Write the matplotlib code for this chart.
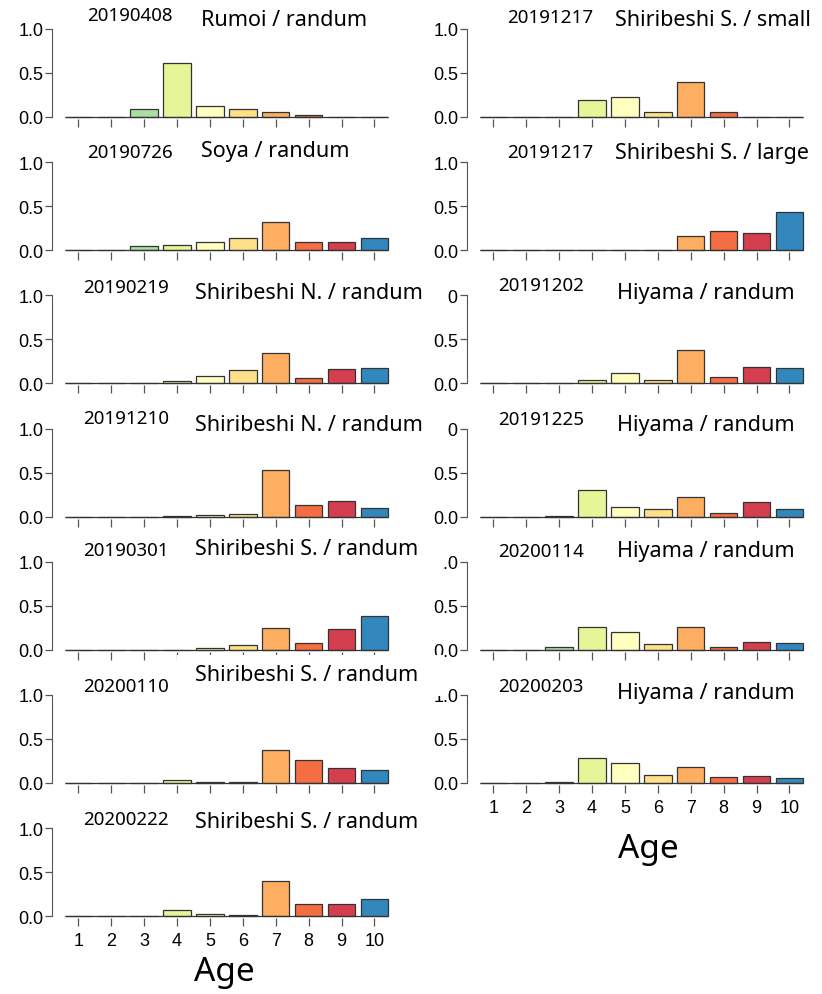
import numpy as np
import matplotlib.pyplot as plt
from matplotlib.patches import Rectangle

# age composition (proportion) by sample
ages = np.arange(1, 11)
age_colors = ['#5e4fa2', '#66c2a5', '#abdda4', '#e6f598', '#ffffbf',
              '#fee08b', '#fdae61', '#f46d43', '#d53e4f', '#3288bd']

rumoi_0408 = [0, 0, 0.087, 0.61, 0.13, 0.087, 0.057, 0.023, 0, 0.005]
soya_0726 = [0, 0, 0.053, 0.064, 0.094, 0.143, 0.32, 0.094, 0.094, 0.143]
shiriN_0219 = [0, 0, 0, 0.022, 0.081, 0.148, 0.345, 0.06, 0.16, 0.178]
shiriN_1210 = [0, 0, 0, 0.006, 0.02, 0.035, 0.53, 0.128, 0.173, 0.098]
shiriS_0301 = [0, 0, 0, 0, 0.023, 0.05, 0.248, 0.073, 0.233, 0.38]
shiriS_0110 = [0, 0, 0, 0.035, 0.01, 0.01, 0.37, 0.26, 0.175, 0.148]
shiriS_0222 = [0, 0, 0, 0.068, 0.027, 0.008, 0.405, 0.144, 0.144, 0.193]

shiriS_small_1217 = [0, 0, 0, 0.196, 0.227, 0.062, 0.396, 0.062, 0, 0]
shiriS_large_1217 = [0, 0, 0, 0, 0, 0, 0.165, 0.222, 0.19, 0.43]
hiyama_1202 = [0, 0, 0, 0.038, 0.117, 0.038, 0.38, 0.07, 0.188, 0.18]
hiyama_1225 = [0, 0, 0.005, 0.297, 0.113, 0.083, 0.226, 0.045, 0.162, 0.083]
hiyama_0114 = [0, 0, 0.03, 0.263, 0.207, 0.064, 0.256, 0.03, 0.086, 0.079]
hiyama_0203 = [0, 0, 0.007, 0.281, 0.23, 0.096, 0.185, 0.067, 0.081, 0.056]

left_dates = ['20190408', '20190726', '20190219', '20191210', '20190301', '20200110', '20200222']
left_regions = ['Rumoi / randum', 'Soya / randum', 'Shiribeshi N. / randum', 'Shiribeshi N. / randum',
                'Shiribeshi S. / randum', 'Shiribeshi S. / randum', 'Shiribeshi S. / randum']
left_values = [rumoi_0408, soya_0726, shiriN_0219, shiriN_1210, shiriS_0301, shiriS_0110, shiriS_0222]

right_dates = ['20191217', '20191217', '20191202', '20191225', '20200114', '20200203']
right_regions = ['Shiribeshi S. / small', 'Shiribeshi S. / large', 'Hiyama / randum',
                 'Hiyama / randum', 'Hiyama / randum', 'Hiyama / randum']
right_values = [shiriS_small_1217, shiriS_large_1217, hiyama_1202, hiyama_1225, hiyama_0114, hiyama_0203]

# layout in pixels
W, H, DPI = 822, 995, 100
zero_px = [118 + 133.2 * i for i in range(7)]
col_left = [52, 467]
px_per_age = 32.9
xlim = (0.2, 10.45)
bar_w = 0.833
ax_w = (xlim[1] - xlim[0]) * px_per_age
ax_h = 88
# label placement: (date x, region x, date dy, region dy) per column/row
left_lab = [(87, 201, -14, -10), (87, 201, -10, -12), (83, 195, -8, -3), (83, 195, -11, -4),
            (83, 195, -12, -13), (83, 195, -9, -20), (83, 195, -9, -7)]
right_lab = [(507, 615, -12, -10), (507, 615, -10, -10), (498, 617, -10, -3),
             (498, 617, -10, -4), (498, 617, -11, -11), (498, 617, -9, -2)]

tick_font = 'Liberation Sans'
lab_font = 'Noto Sans'

fig = plt.figure(figsize=(W / DPI, H / DPI), dpi=DPI)


def panel(col, row, vals, date, region, lab, last):
    z = zero_px[row]
    ax = fig.add_axes([col_left[col] / W, 1 - z / H, ax_w / W, ax_h / H])
    ax.bar(ages, vals, width=bar_w, color=age_colors, edgecolor='#333333',
           linewidth=0.9, clip_on=False)
    ax.hlines(0, ages[0] - bar_w / 2, ages[-1] + bar_w / 2, color='#333333',
              linewidth=0.9, clip_on=False, zorder=3)
    ax.set_xlim(*xlim)
    ax.set_ylim(0, 1)
    for s in ['top', 'right']:
        ax.spines[s].set_visible(False)
    ax.spines['bottom'].set_visible(False)
    ax.spines['bottom'].set_position(('outward', 1.5))
    ax.spines['left'].set_color('#555555')
    ax.spines['left'].set_bounds(0, 1)
    ax.set_yticks([0, 0.5, 1.0])
    ax.set_yticklabels(['0.0', '0.5', '1.0'], fontsize=13, fontfamily=tick_font)
    ax.set_xticks(ages)
    if last:
        ax.set_xticklabels([str(a) for a in ages], fontsize=13, fontfamily=tick_font)
    else:
        ax.set_xticklabels([])
    ax.tick_params(axis='x', length=6, width=0.9, color='#555555', pad=4)
    ax.tick_params(axis='y', length=5, width=0.9, color='#555555', pad=1)
    ax.patch.set_alpha(0)
    top = z - ax_h
    fig.text(lab[0] / W, 1 - (top + lab[2]) / H, date, ha='left', va='center',
             fontsize=13.5, family=lab_font, zorder=3)
    t = fig.text(lab[1] / W, 1 - (top + lab[3]) / H, region, ha='left', va='center',
                 fontsize=15.5, family=lab_font, zorder=4)
    return t


left_texts = []
for i in range(7):
    left_texts.append(panel(0, i, left_values[i], left_dates[i], left_regions[i],
                            left_lab[i], i == 6))
for i in range(6):
    panel(1, i, right_values[i], right_dates[i], right_regions[i], right_lab[i], i == 5)

fig.text(224 / W, 1 - 973 / H, 'Age', ha='center', va='center', fontsize=24, family=lab_font)
fig.text(648 / W, 1 - 850 / H, 'Age', ha='center', va='center', fontsize=24, family=lab_font)

# white label boxes of the left column run over neighbouring panels
fig.canvas.draw()
r = fig.canvas.get_renderer()
for t in left_texts:
    bb = t.get_window_extent(r)
    fig.patches.append(Rectangle(((bb.x0 - 18) / W, (bb.y0 - 10) / H),
                                 (bb.width + 43) / W, (bb.height + 20) / H,
                                 transform=fig.transFigure, facecolor='white',
                                 edgecolor='none', zorder=2))

fig.savefig('out.png', dpi=DPI)
